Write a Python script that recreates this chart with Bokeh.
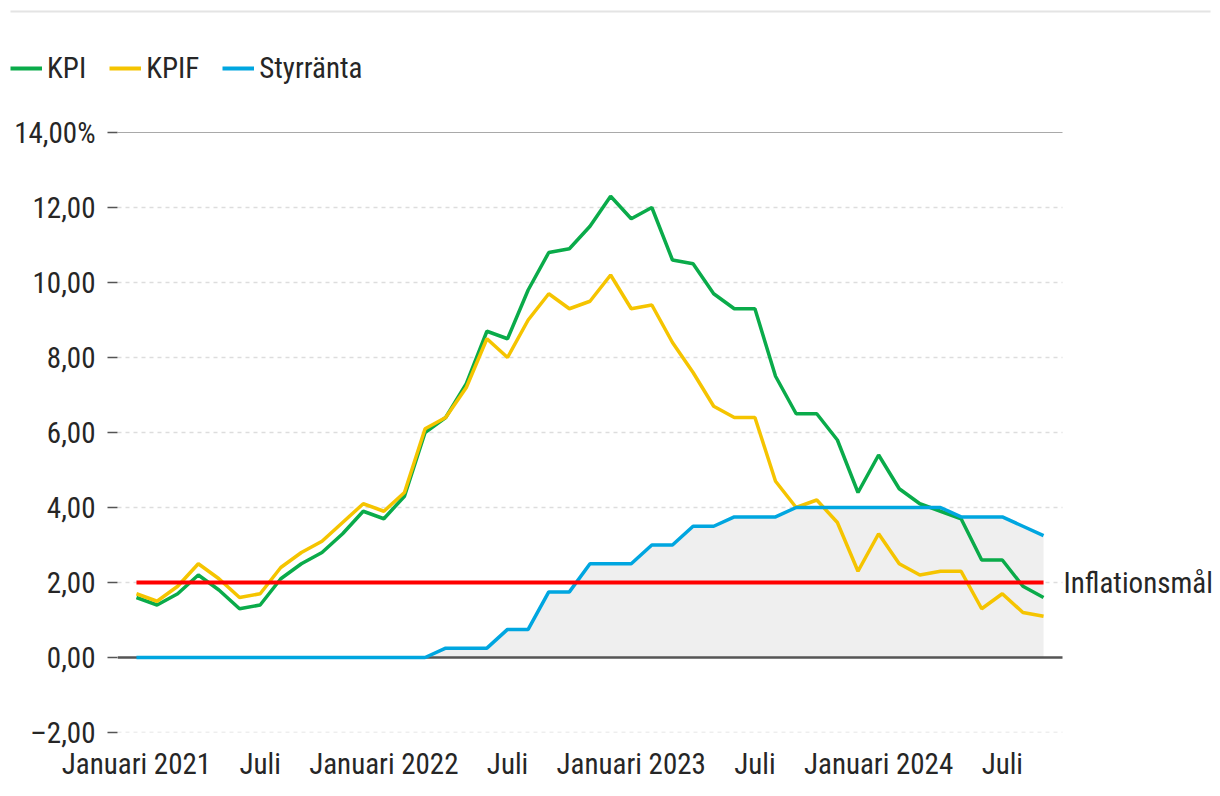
import pandas as pd
from bokeh.plotting import figure
from bokeh.models import FixedTicker, Legend, LegendItem, Range1d, Label
from bokeh.layouts import column
from bokeh.embed import file_html
from bokeh.resources import INLINE

months = pd.date_range("2021-01-01", "2024-09-01", freq="MS")

kpi = [1.6, 1.4, 1.7, 2.2, 1.8, 1.3, 1.4, 2.1, 2.5, 2.8,
       3.3, 3.9, 3.7, 4.3, 6.0, 6.4, 7.3, 8.7, 8.5, 9.8,
       10.8, 10.9, 11.5, 12.3, 11.7, 12.0, 10.6, 10.5, 9.7, 9.3,
       9.3, 7.5, 6.5, 6.5, 5.8, 4.4, 5.4, 4.5, 4.1, 3.9,
       3.7, 2.6, 2.6, 1.9, 1.6]
kpif = [1.7, 1.5, 1.9, 2.5, 2.1, 1.6, 1.7, 2.4, 2.8, 3.1,
        3.6, 4.1, 3.9, 4.4, 6.1, 6.4, 7.2, 8.5, 8.0, 9.0,
        9.7, 9.3, 9.5, 10.2, 9.3, 9.4, 8.4, 7.6, 6.7, 6.4,
        6.4, 4.7, 4.0, 4.2, 3.6, 2.3, 3.3, 2.5, 2.2, 2.3,
        2.3, 1.3, 1.7, 1.2, 1.1]
styrranta = [0, 0, 0, 0, 0, 0, 0, 0, 0, 0,
             0, 0, 0, 0, 0, 0.25, 0.25, 0.25, 0.75, 0.75,
             1.75, 1.75, 2.5, 2.5, 2.5, 3.0, 3.0, 3.5, 3.5, 3.75,
             3.75, 3.75, 4.0, 4.0, 4.0, 4.0, 4.0, 4.0, 4.0, 4.0,
             3.75, 3.75, 3.75, 3.5, 3.25]
inflationsmal = 2.0

y_ticks = [-2, 0, 2, 4, 6, 8, 10, 12, 14]
y_tick_labels = ["\u20132,00", "0,00", "2,00", "4,00", "6,00", "8,00", "10,00", "12,00", "14,00%"]
x_tick_labels = ["Januari 2021", "Juli", "Januari 2022", "Juli",
                 "Januari 2023", "Juli", "Januari 2024", "Juli"]

FONT = "Roboto Condensed"
TXT = "#262626"
GREEN, YELLOW, BLUE, RED = "#0aab4a", "#f5c400", "#00a6e0", "#ff0000"
W = 1216

x = list(range(len(months)))
x_ticks = [i for i, m in enumerate(months) if m.month in (1, 7)]
pad = 0.92
x_lo, x_hi = x[0] - pad, x[-1] + pad          # extent of the plotting area
x_view_hi = x_lo + (W - 117) * (x_hi - x_lo) / 945.0   # extra room on the right for the label

# ---------------- legend strip (pixel-like data units) ----------------
STRIP_H = 112
leg = figure(width=W, height=STRIP_H, output_backend="svg", toolbar_location=None,
             min_border=0, x_axis_location=None, y_axis_location=None,
             x_range=Range1d(0, W), y_range=Range1d(1000, 1000 + STRIP_H))
leg.frame_align = False
leg.grid.visible = False
leg.outline_line_color = None
l1 = leg.line(x, kpi, line_color=GREEN, line_width=4)
l2 = leg.line(x, kpif, line_color=YELLOW, line_width=4)
l3 = leg.line(x, styrranta, line_color=BLUE, line_width=4)
leg.segment(x0=[10], x1=[1210], y0=[1000 + STRIP_H - 11], y1=[1000 + STRIP_H - 11],
            line_color="#e4e4e4", line_width=2)
legend = Legend(items=[LegendItem(label="KPI", renderers=[l1]),
                       LegendItem(label="KPIF", renderers=[l2]),
                       LegendItem(label="Styrränta", renderers=[l3])],
                orientation="horizontal", location=(10, 27),
                glyph_width=32, glyph_height=30, label_standoff=5, spacing=23,
                padding=0, margin=0, border_line_color=None, background_fill_alpha=0,
                label_text_font=FONT, label_text_font_size="29px", label_text_color=TXT,
                label_height=30)
leg.add_layout(legend)

# ---------------- main chart ----------------
p = figure(width=W, height=672, output_backend="svg", toolbar_location=None,
           min_border_left=117, min_border_right=0, min_border_top=20, min_border_bottom=52,
           x_range=Range1d(x_lo, x_view_hi), y_range=Range1d(-2, 14))
p.frame_align = False
p.outline_line_color = None
p.xgrid.grid_line_color = None
p.ygrid.grid_line_color = None

p.yaxis.ticker = FixedTicker(ticks=y_ticks)
p.yaxis.major_label_overrides = {t: l for t, l in zip(y_ticks, y_tick_labels)}
p.yaxis.axis_line_color = None
p.yaxis.major_tick_line_color = "#555555"
p.yaxis.major_tick_line_width = 1.5
p.yaxis.major_tick_out = 10
p.yaxis.major_tick_in = 0
p.yaxis.minor_tick_line_color = None
p.yaxis.major_label_standoff = 12
p.yaxis.major_label_text_font = FONT
p.yaxis.major_label_text_font_size = "29px"
p.yaxis.major_label_text_color = TXT

p.xaxis.ticker = FixedTicker(ticks=x_ticks)
p.xaxis.major_label_overrides = {t: l for t, l in zip(x_ticks, x_tick_labels)}
p.xaxis.axis_line_color = None
p.xaxis.major_tick_line_color = None
p.xaxis.minor_tick_line_color = None
p.xaxis.major_label_standoff = 8
p.xaxis.major_label_text_font = FONT
p.xaxis.major_label_text_font_size = "29px"
p.xaxis.major_label_text_color = TXT

# dashed horizontal grid limited to the plotting area
grid_y = [t for t in y_ticks if t not in (0, y_ticks[-1])]
p.segment(x0=[x_lo] * len(grid_y), x1=[x_hi] * len(grid_y), y0=grid_y, y1=grid_y,
          line_color="#dddddd", line_width=1.5, line_dash="4 4")

# area under policy rate
p.varea(x=x, y1=[0] * len(x), y2=styrranta, fill_color="#efefef")

# top rule and zero line
p.segment(x0=[x_lo], x1=[x_hi], y0=[y_ticks[-1]], y1=[y_ticks[-1]], line_color="#555555", line_width=1)
p.segment(x0=[x_lo], x1=[x_hi], y0=[0], y1=[0], line_color="#555555", line_width=2.5)

p.line(x, kpi, line_color=GREEN, line_width=3.5)
p.line(x, kpif, line_color=YELLOW, line_width=3.5)
p.line(x, styrranta, line_color=BLUE, line_width=3.5)
p.line(x, [inflationsmal] * len(x), line_color=RED, line_width=4)

p.add_layout(Label(x=x[-1], y=inflationsmal, x_offset=20, text="Inflationsmål",
                   text_baseline="middle", text_font=FONT, text_font_size="29px",
                   text_color=TXT))

layout = column(leg, p, spacing=0)
open("out.html", "w").write(file_html(layout, INLINE))
